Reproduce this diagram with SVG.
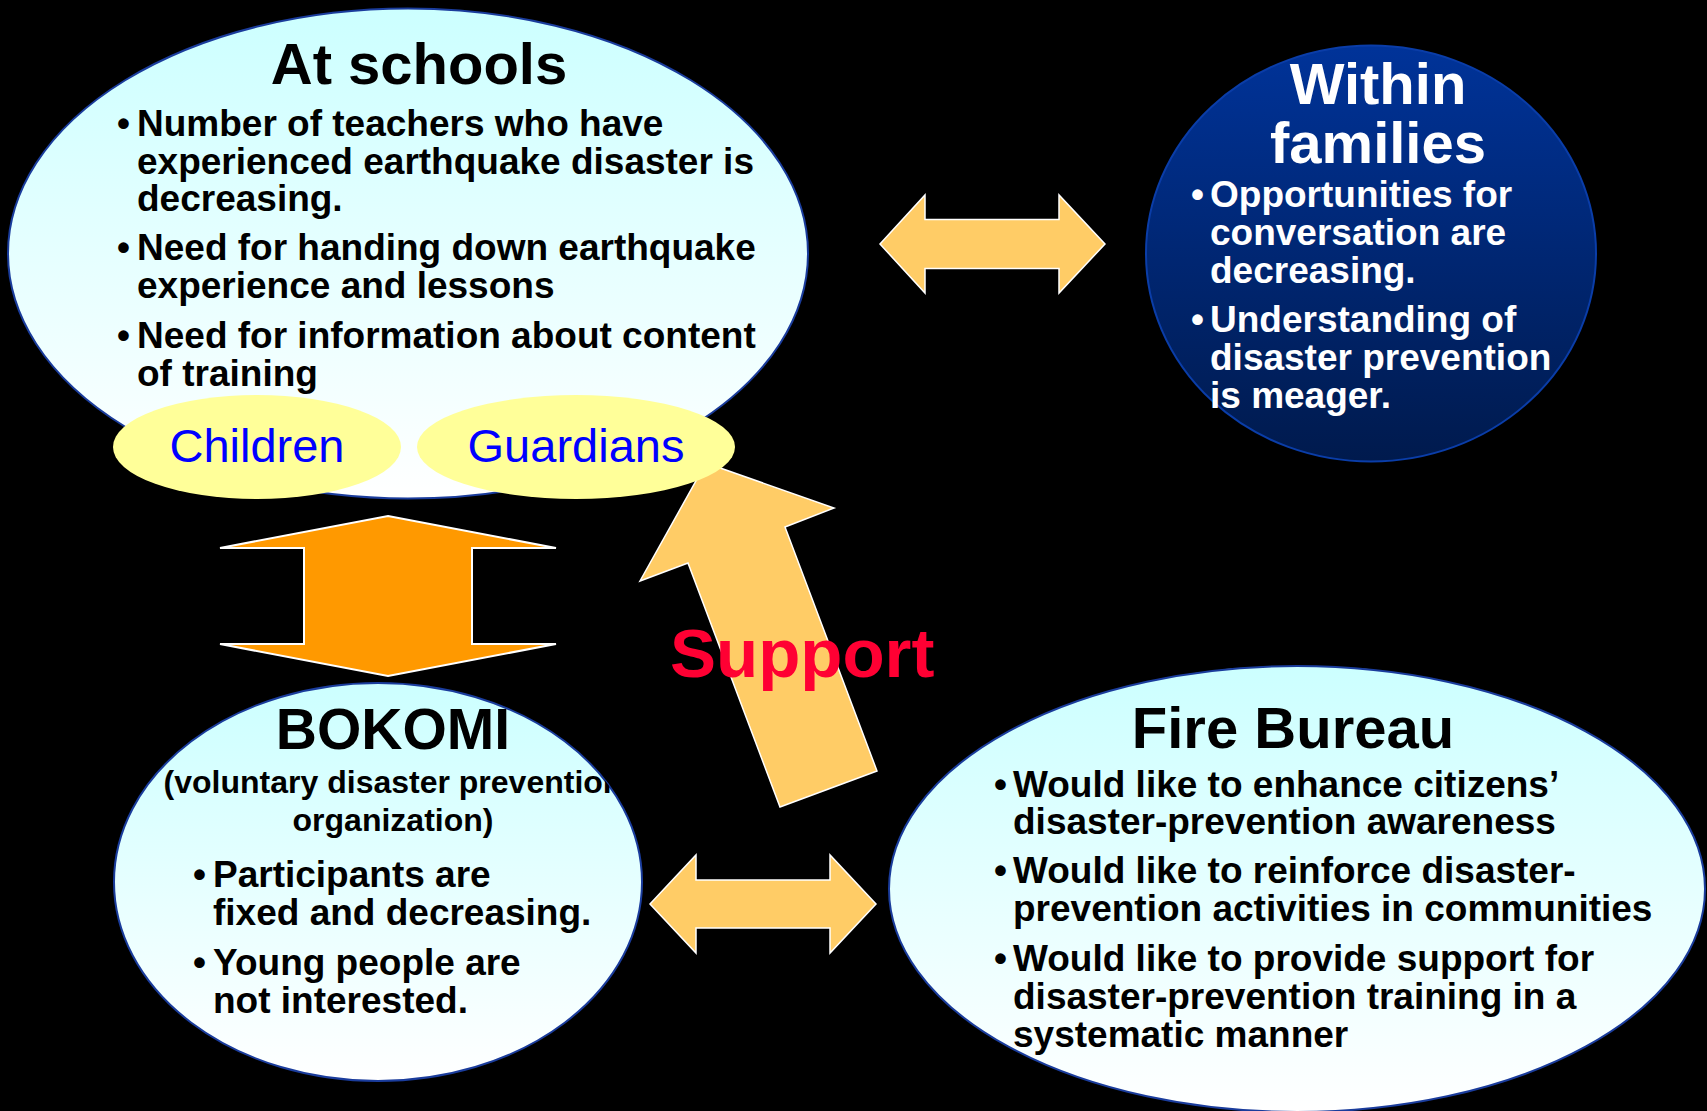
<svg xmlns="http://www.w3.org/2000/svg" width="1707" height="1111" viewBox="0 0 1707 1111">
<defs>
<linearGradient id="light" x1="0" y1="0" x2="0" y2="1">
<stop offset="0" stop-color="#CCFFFF"/>
<stop offset="1" stop-color="#FFFFFF"/>
</linearGradient>
<linearGradient id="navy" x1="0" y1="0" x2="0" y2="1">
<stop offset="0" stop-color="#003399"/>
<stop offset="1" stop-color="#001A4D"/>
</linearGradient>
<clipPath id="bokomiClip">
<ellipse cx="378" cy="882" rx="264" ry="199"/>
</clipPath>
<style>
.node { stroke: #1A3C9C; stroke-width: 2; }
.light { fill: url(#light); }
.dark { fill: url(#navy); stroke: #0A3DA8; }
.tag { fill: #FFFF99; stroke: none; }
.t { font-family: "Liberation Sans", Arial, sans-serif; font-weight: bold; }
.title { font-size: 58px; text-anchor: middle; }
.b { font-size: 37px; }
.blk { fill: #000000; }
.wht { fill: #FFFFFF; }
.tagtxt { font-family: "Liberation Sans", Arial, sans-serif; font-size: 47px; fill: #0000FF; text-anchor: middle; }
.arrowL { fill: #FFCC66; stroke: #FFFFFF; stroke-width: 1.5; stroke-linejoin: miter; }
.arrowO { fill: #FF9900; stroke: #FFFFFF; stroke-width: 2; }
</style>
</defs>
<rect x="0" y="0" width="1707" height="1111" fill="#000000"/>

<g id="connectors">
<polygon id="arrow-schools-families" class="arrowL" points="880,244 925,195 925,219.5 1059,219.5 1059,195 1105,244 1059,293 1059,268.5 925,268.5 925,293"/>
<polygon id="arrow-bokomi-fire" class="arrowL" points="650,904 696,855 696,880 830,880 830,855 876,904 830,953 830,928 696,928 696,953"/>
<polygon id="arrow-schools-bokomi" class="arrowO" points="388,516 556,548 472,548 472,644 556,644 388,676 220,644 304,644 304,548 220,548"/>
<polygon id="arrow-support" class="arrowL" points="706,463 834,508 785,527 877,771 780,807 688,563 640,581"/>
<text id="support-label" class="t" x="670" y="677" font-size="69" fill="#FF0033">Support</text>
</g>

<g id="schools">
<ellipse class="node light" cx="408" cy="253.5" rx="400" ry="245"/>
<text class="t title blk" x="419" y="84">At schools</text>
<g class="t b blk">
<text x="117" y="136">•</text><text x="137" y="136">Number of teachers who have</text>
<text x="137" y="173.5">experienced earthquake disaster is</text>
<text x="137" y="211">decreasing.</text>
<text x="117" y="260">•</text><text x="137" y="260">Need for handing down earthquake</text>
<text x="137" y="297.5">experience and lessons</text>
<text x="117" y="348">•</text><text x="137" y="348">Need for information about content</text>
<text x="137" y="385.5">of training</text>
</g>
</g>

<g id="children">
<ellipse class="tag" cx="257" cy="447" rx="144" ry="52"/>
<text class="tagtxt" x="257" y="462">Children</text>
</g>

<g id="guardians">
<ellipse class="tag" cx="576" cy="447" rx="159" ry="52"/>
<text class="tagtxt" x="576" y="462">Guardians</text>
</g>

<g id="families">
<ellipse class="node dark" cx="1371" cy="253.5" rx="225" ry="208"/>
<text class="t title wht" x="1378" y="104">Within</text>
<text class="t title wht" x="1378" y="163">families</text>
<g class="t b wht">
<text x="1191" y="207">•</text><text x="1210" y="207">Opportunities for</text>
<text x="1210" y="245">conversation are</text>
<text x="1210" y="283">decreasing.</text>
<text x="1191" y="332">•</text><text x="1210" y="332">Understanding of</text>
<text x="1210" y="370">disaster prevention</text>
<text x="1210" y="408">is meager.</text>
</g>
</g>

<g id="bokomi">
<ellipse class="node light" cx="378" cy="882" rx="264" ry="199"/>
<g clip-path="url(#bokomiClip)">
<text class="t blk" x="393" y="749" font-size="57" text-anchor="middle">BOKOMI</text>
<text class="t blk" x="393" y="793" font-size="32" text-anchor="middle">(voluntary disaster prevention</text>
<text class="t blk" x="393" y="831" font-size="32" text-anchor="middle">organization)</text>
</g>
<g class="t b blk">
<text x="193" y="887">•</text><text x="213" y="887">Participants are</text>
<text x="213" y="925">fixed and decreasing.</text>
<text x="193" y="975">•</text><text x="213" y="975">Young people are</text>
<text x="213" y="1012.5">not interested.</text>
</g>
</g>

<g id="firebureau">
<ellipse class="node light" cx="1297" cy="889" rx="408" ry="223"/>
<text class="t title blk" x="1293" y="748">Fire Bureau</text>
<g class="t b blk">
<text x="994" y="796.5">•</text><text x="1013" y="796.5">Would like to enhance citizens’</text>
<text x="1013" y="834">disaster-prevention awareness</text>
<text x="994" y="883">•</text><text x="1013" y="883">Would like to reinforce disaster-</text>
<text x="1013" y="921">prevention activities in communities</text>
<text x="994" y="971">•</text><text x="1013" y="971">Would like to provide support for</text>
<text x="1013" y="1008.5">disaster-prevention training in a</text>
<text x="1013" y="1046.5">systematic manner</text>
</g>
</g>
</svg>
